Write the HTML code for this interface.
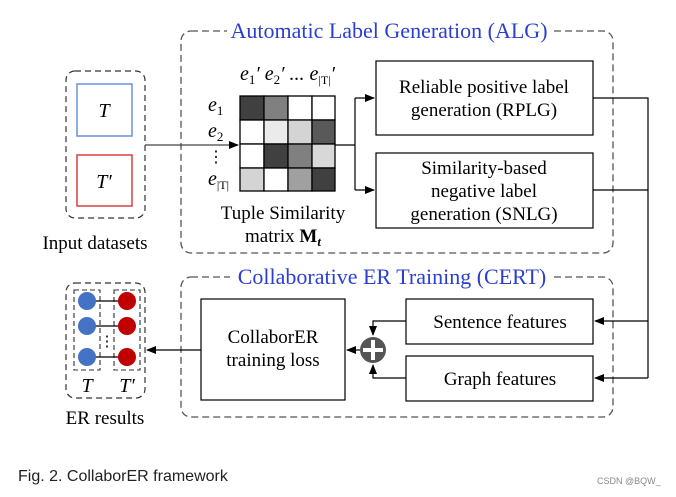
<!DOCTYPE html>
<html><head><meta charset="utf-8"><style>
html,body{margin:0;padding:0;background:#fff;}
svg{display:block;}
text{font-family:"Liberation Serif",serif;fill:#000;}
</style></head><body>
<svg width="676" height="497" viewBox="0 0 676 497" xmlns="http://www.w3.org/2000/svg">
<defs>
<marker id="a" markerWidth="10" markerHeight="8" refX="9" refY="4" orient="auto" markerUnits="userSpaceOnUse">
<path d="M0,0 L10,4 L0,8 z" fill="#000"/></marker>
</defs>
<!-- ALG dashed box -->
<rect x="181" y="31" width="432" height="222" rx="10" fill="none" stroke="#555" stroke-width="1.3" stroke-dasharray="7,4"/>
<rect x="227" y="18" width="325" height="24" fill="#fff"/>
<text x="389" y="38" font-size="22" text-anchor="middle" style="fill:#2a3fd0">Automatic Label Generation (ALG)</text>
<!-- CERT dashed box -->
<rect x="181" y="277" width="432" height="140" rx="10" fill="none" stroke="#555" stroke-width="1.3" stroke-dasharray="7,4"/>
<rect x="230" y="264" width="323" height="24" fill="#fff"/>
<text x="392" y="284" font-size="22" text-anchor="middle" style="fill:#2a3fd0">Collaborative ER Training (CERT)</text>

<!-- Input datasets -->
<rect x="66" y="71" width="79" height="147" rx="9" fill="none" stroke="#333" stroke-width="1.2" stroke-dasharray="6,4"/>
<rect x="77" y="84" width="55" height="52" fill="none" stroke="#6a8fe0" stroke-width="1.5"/>
<rect x="77" y="155" width="55" height="51" fill="none" stroke="#d84040" stroke-width="1.5"/>
<text x="104" y="117" font-size="20" font-style="italic" text-anchor="middle">T</text>
<text x="104" y="188" font-size="20" font-style="italic" text-anchor="middle">T′</text>
<text x="95" y="249" font-size="19" text-anchor="middle">Input datasets</text>
<line x1="145" y1="145" x2="238" y2="145" stroke="#444" stroke-width="1.3" marker-end="url(#a)"/>

<!-- matrix -->
<g stroke="#000" stroke-width="1.3">
<rect x="240" y="96" width="24" height="24" fill="#404040"/>
<rect x="264" y="96" width="24" height="24" fill="#808080"/>
<rect x="288" y="96" width="24" height="24" fill="#fff"/>
<rect x="312" y="96" width="23" height="24" fill="#fff"/>
<rect x="240" y="120" width="24" height="24" fill="#fff"/>
<rect x="264" y="120" width="24" height="24" fill="#ebebeb"/>
<rect x="288" y="120" width="24" height="24" fill="#d4d4d4"/>
<rect x="312" y="120" width="23" height="24" fill="#595959"/>
<rect x="240" y="144" width="24" height="24" fill="#fff"/>
<rect x="264" y="144" width="24" height="24" fill="#404040"/>
<rect x="288" y="144" width="24" height="24" fill="#808080"/>
<rect x="312" y="144" width="23" height="24" fill="#d8d8d8"/>
<rect x="240" y="168" width="24" height="23" fill="#d4d4d4"/>
<rect x="264" y="168" width="24" height="23" fill="#fff"/>
<rect x="288" y="168" width="24" height="23" fill="#a0a0a0"/>
<rect x="312" y="168" width="23" height="23" fill="#404040"/>
</g>
<text x="240" y="80" font-size="20" font-style="italic">e<tspan font-size="13" dy="4" font-style="normal">1</tspan><tspan dy="-4">′ e</tspan><tspan font-size="13" dy="4" font-style="normal">2</tspan><tspan dy="-4">′ ... e</tspan><tspan font-size="12" dy="4" font-style="normal">|T|</tspan><tspan dy="-4">′</tspan></text>
<text x="208" y="111" font-size="20" font-style="italic">e<tspan font-size="13" dy="4" font-style="normal">1</tspan></text>
<text x="208" y="137" font-size="20" font-style="italic">e<tspan font-size="13" dy="4" font-style="normal">2</tspan></text>
<text x="216" y="162" font-size="16" text-anchor="middle">⋮</text>
<text x="208" y="185" font-size="20" font-style="italic">e<tspan font-size="12" dy="4" font-style="normal">|T|</tspan></text>
<text x="283" y="219" font-size="19" text-anchor="middle">Tuple Similarity</text>
<text x="283" y="242" font-size="19" text-anchor="middle">matrix <tspan font-weight="bold">M</tspan><tspan font-weight="bold" font-style="italic" font-size="13" dy="4">t</tspan></text>

<!-- matrix to boxes -->
<polyline points="335,145 355,145" fill="none" stroke="#000" stroke-width="1.2"/>
<line x1="355" y1="98" x2="355" y2="190" stroke="#000" stroke-width="1.2"/>
<line x1="355" y1="98" x2="374" y2="98" stroke="#000" stroke-width="1.2" marker-end="url(#a)"/>
<line x1="355" y1="190" x2="374" y2="190" stroke="#000" stroke-width="1.2" marker-end="url(#a)"/>

<rect x="376" y="61" width="217" height="74" fill="#fff" stroke="#000" stroke-width="1.2"/>
<text x="484" y="93" font-size="19" text-anchor="middle">Reliable positive label</text>
<text x="484" y="116" font-size="19" text-anchor="middle">generation (RPLG)</text>
<rect x="376" y="153" width="217" height="75" fill="#fff" stroke="#000" stroke-width="1.2"/>
<text x="484" y="174" font-size="19" text-anchor="middle">Similarity-based</text>
<text x="484" y="197" font-size="19" text-anchor="middle">negative label</text>
<text x="484" y="220" font-size="19" text-anchor="middle">generation (SNLG)</text>

<!-- right connectors -->
<polyline points="593,98 648,98 648,378" fill="none" stroke="#000" stroke-width="1.2"/>
<line x1="593" y1="190" x2="648" y2="190" stroke="#000" stroke-width="1.2"/>
<line x1="648" y1="321" x2="595" y2="321" stroke="#000" stroke-width="1.2" marker-end="url(#a)"/>
<line x1="648" y1="378" x2="595" y2="378" stroke="#000" stroke-width="1.2" marker-end="url(#a)"/>

<rect x="406" y="299" width="187" height="45" fill="#fff" stroke="#000" stroke-width="1.2"/>
<text x="500" y="328" font-size="19" text-anchor="middle">Sentence features</text>
<rect x="406" y="356" width="187" height="45" fill="#fff" stroke="#000" stroke-width="1.2"/>
<text x="500" y="385" font-size="19" text-anchor="middle">Graph features</text>

<polyline points="406,321 373,321 373,335" fill="none" stroke="#000" stroke-width="1.2" marker-end="url(#a)"/>
<polyline points="406,378 373,378 373,365" fill="none" stroke="#000" stroke-width="1.2" marker-end="url(#a)"/>
<circle cx="373" cy="350" r="13" fill="#555"/>
<rect x="371" y="340" width="4" height="20" fill="#fff"/>
<rect x="363" y="348" width="20" height="4" fill="#fff"/>
<line x1="360" y1="350" x2="347" y2="350" stroke="#000" stroke-width="1.2" marker-end="url(#a)"/>

<rect x="201" y="299" width="144" height="101" fill="#fff" stroke="#000" stroke-width="1.2"/>
<text x="273" y="343" font-size="19" text-anchor="middle">CollaborER</text>
<text x="273" y="366" font-size="19" text-anchor="middle">training loss</text>
<line x1="201" y1="350" x2="147" y2="350" stroke="#000" stroke-width="1.2" marker-end="url(#a)"/>

<!-- ER results -->
<rect x="66" y="283" width="79" height="115" rx="9" fill="none" stroke="#333" stroke-width="1.2" stroke-dasharray="6,4"/>
<rect x="74" y="290" width="26" height="80" fill="none" stroke="#333" stroke-width="1.1" stroke-dasharray="5,3"/>
<rect x="114" y="290" width="26" height="80" fill="none" stroke="#333" stroke-width="1.1" stroke-dasharray="5,3"/>
<g stroke="#000" stroke-width="1.2">
<line x1="87" y1="301" x2="126" y2="301"/><line x1="87" y1="326" x2="126" y2="326"/><line x1="87" y1="357" x2="126" y2="357"/>
</g>
<g fill="#4472c4"><circle cx="87" cy="301" r="9"/><circle cx="87" cy="326" r="9"/><circle cx="87" cy="357" r="9"/></g>
<g fill="#c00000"><circle cx="127" cy="301" r="9"/><circle cx="127" cy="326" r="9"/><circle cx="127" cy="357" r="9"/></g>
<text x="107" y="346" font-size="15" text-anchor="middle">⋮</text>
<text x="87" y="392" font-size="20" font-style="italic" text-anchor="middle">T</text>
<text x="127" y="392" font-size="20" font-style="italic" text-anchor="middle">T′</text>
<text x="105" y="424" font-size="19" text-anchor="middle">ER results</text>

<text x="18" y="481" font-size="16" style="font-family:'Liberation Sans',sans-serif;fill:#222">Fig. 2. CollaborER framework</text>
<text x="597" y="484" font-size="9" style="font-family:'Liberation Sans',sans-serif;fill:#888">CSDN @BQW_</text>
</svg>
</body></html>
